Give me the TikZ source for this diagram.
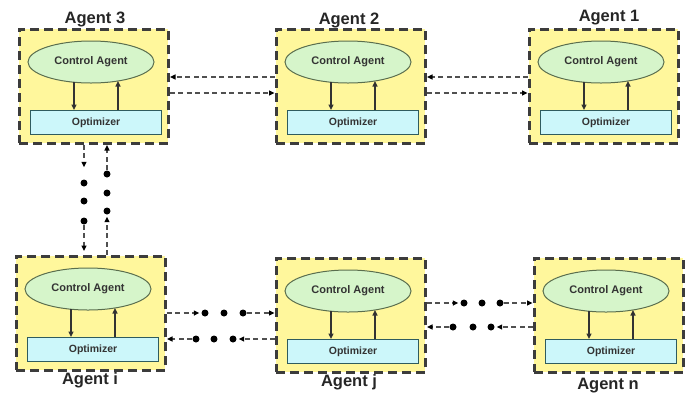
\documentclass[tikz,border=0pt]{standalone}
\usepackage{fontspec}
\setmainfont{Liberation Sans}
\usetikzlibrary{arrows.meta,calc,shapes.geometric}
\definecolor{boxyellow}{HTML}{FFF79C}
\definecolor{ellgreen}{HTML}{D6F5CA}
\definecolor{ellline}{HTML}{5A6E4E}
\definecolor{optcyan}{HTML}{CCF7FA}
\definecolor{optline}{HTML}{2F5C5E}
\definecolor{dashgray}{HTML}{3C3C3C}
\definecolor{conngray}{HTML}{505050}
\tikzset{
  agentbox/.style={draw=dashgray, fill=boxyellow, line width=2.5pt,
    dash pattern=on 9pt off 5pt, rectangle, inner sep=0pt,
    minimum width=149pt, minimum height=114pt, anchor=north west},
  ctrl/.style={draw=ellline, fill=ellgreen, line width=1pt, ellipse,
    minimum width=126pt, minimum height=42pt, inner sep=0pt,
    font=\fontsize{11}{12}\selectfont\bfseries, text=black!80},
  opt/.style={draw=optline, fill=optcyan, line width=1.2pt, rectangle,
    inner sep=0pt, minimum width=131pt, minimum height=24pt, anchor=north west,
    font=\fontsize{10.5}{12}\selectfont\bfseries, text=black!80},
  inarrow/.style={draw=black!80, line width=1.3pt, -{Triangle[length=5.5pt,width=5pt,fill=black]}},
  conn/.style={draw=conngray, line width=1.4pt, dash pattern=on 5pt off 3.5pt,
    -{Triangle[length=5.5pt,width=5pt,fill=black,color=black]}, shorten >=0.5pt},
  dotnode/.style={circle, fill=black, inner sep=0pt, minimum size=7pt},
  agentlabel/.style={anchor=base, font=\fontsize{16.5}{18}\selectfont\bfseries, text=black!85},
}
\newcommand{\agentblock}[3]{%
  \node[agentbox] (#1box) at (#2,#3) {};
  \node[ctrl] (#1ca) at (#2+73,#3+34) {Control Agent};
  \node[opt] (#1opt) at (#2+12,#3+82) {Optimizer};
  \coordinate (#1d) at (#2+56,#3+54);
  \coordinate (#1u) at (#2+100,#3+53);
  \draw[inarrow] (#1d) -- (#1d |- #1opt.north);
  \draw[inarrow] (#1u |- #1opt.north) -- (#1u);
}
\begin{document}
\begin{tikzpicture}[x=1pt,y=-1pt]
\useasboundingbox (0,0) rectangle (688,392);

% agents
\agentblock{a3}{18}{28}
\agentblock{a2}{275}{28}
\agentblock{a1}{528}{28}
\agentblock{ai}{15}{255}
\agentblock{aj}{275}{257}
\agentblock{an}{533}{257}

% labels
\node[agentlabel] (l3) at (95,23) {Agent 3};
\node[agentlabel] (l2) at (349,24) {Agent 2};
\node[agentlabel] (l1) at (609,21) {Agent 1};
\node[agentlabel] (li) at (90,384) {Agent i};
\node[agentlabel] (lj) at (349,386) {Agent j};
\node[agentlabel] (ln) at (608,389) {Agent n};

% top horizontal connectors
\coordinate (yt1) at (0,77);
\coordinate (yt2) at (0,93);
\draw[conn] (a2box.west |- yt1) -- (a3box.east |- yt1);
\draw[conn] (a3box.east |- yt2) -- (a2box.west |- yt2);
\draw[conn] (a1box.west |- yt1) -- (a2box.east |- yt1);
\draw[conn] (a2box.east |- yt2) -- (a1box.west |- yt2);

% vertical connectors between Agent 3 and Agent i
\node[dotnode] (vl1) at (84,183) {};
\node[dotnode] (vl2) at (84,201) {};
\node[dotnode] (vl3) at (84,221) {};
\draw[conn, shorten >=12pt] (a3box.south -| vl1) -- (vl1);
\draw[conn, shorten >=4pt] (vl3) -- (aibox.north -| vl3);
\node[dotnode] (vr1) at (107,211) {};
\node[dotnode] (vr2) at (107,193) {};
\node[dotnode] (vr3) at (107,174) {};
\draw[conn, shorten >=2pt] (aibox.north -| vr1) -- (vr1);
\draw[conn] (vr3) -- (a3box.south -| vr3);

% Agent i <-> Agent j
\node[dotnode] (ij1) at (205,313) {};
\node[dotnode] (ij2) at (224,313) {};
\node[dotnode] (ij3) at (243,313) {};
\draw[conn, shorten >=2pt] (aibox.east |- ij1) -- (ij1);
\draw[conn] (ij3) -- (ajbox.west |- ij3);
\node[dotnode] (ji1) at (196,339) {};
\node[dotnode] (ji2) at (214,339) {};
\node[dotnode] (ji3) at (233,339) {};
\draw[conn, shorten >=2pt] (ajbox.west |- ji3) -- (ji3);
\draw[conn] (ji1) -- (aibox.east |- ji1);

% Agent j <-> Agent n
\node[dotnode] (jn1) at (464,303) {};
\node[dotnode] (jn2) at (482,303) {};
\node[dotnode] (jn3) at (500,303) {};
\draw[conn, shorten >=2pt] (ajbox.east |- jn1) -- (jn1);
\draw[conn] (jn3) -- (anbox.west |- jn3);
\node[dotnode] (nj1) at (453,327) {};
\node[dotnode] (nj2) at (473,327) {};
\node[dotnode] (nj3) at (491,327) {};
\draw[conn, shorten >=2pt] (anbox.west |- nj3) -- (nj3);
\draw[conn] (nj1) -- (ajbox.east |- nj1);
\end{tikzpicture}
\end{document}
